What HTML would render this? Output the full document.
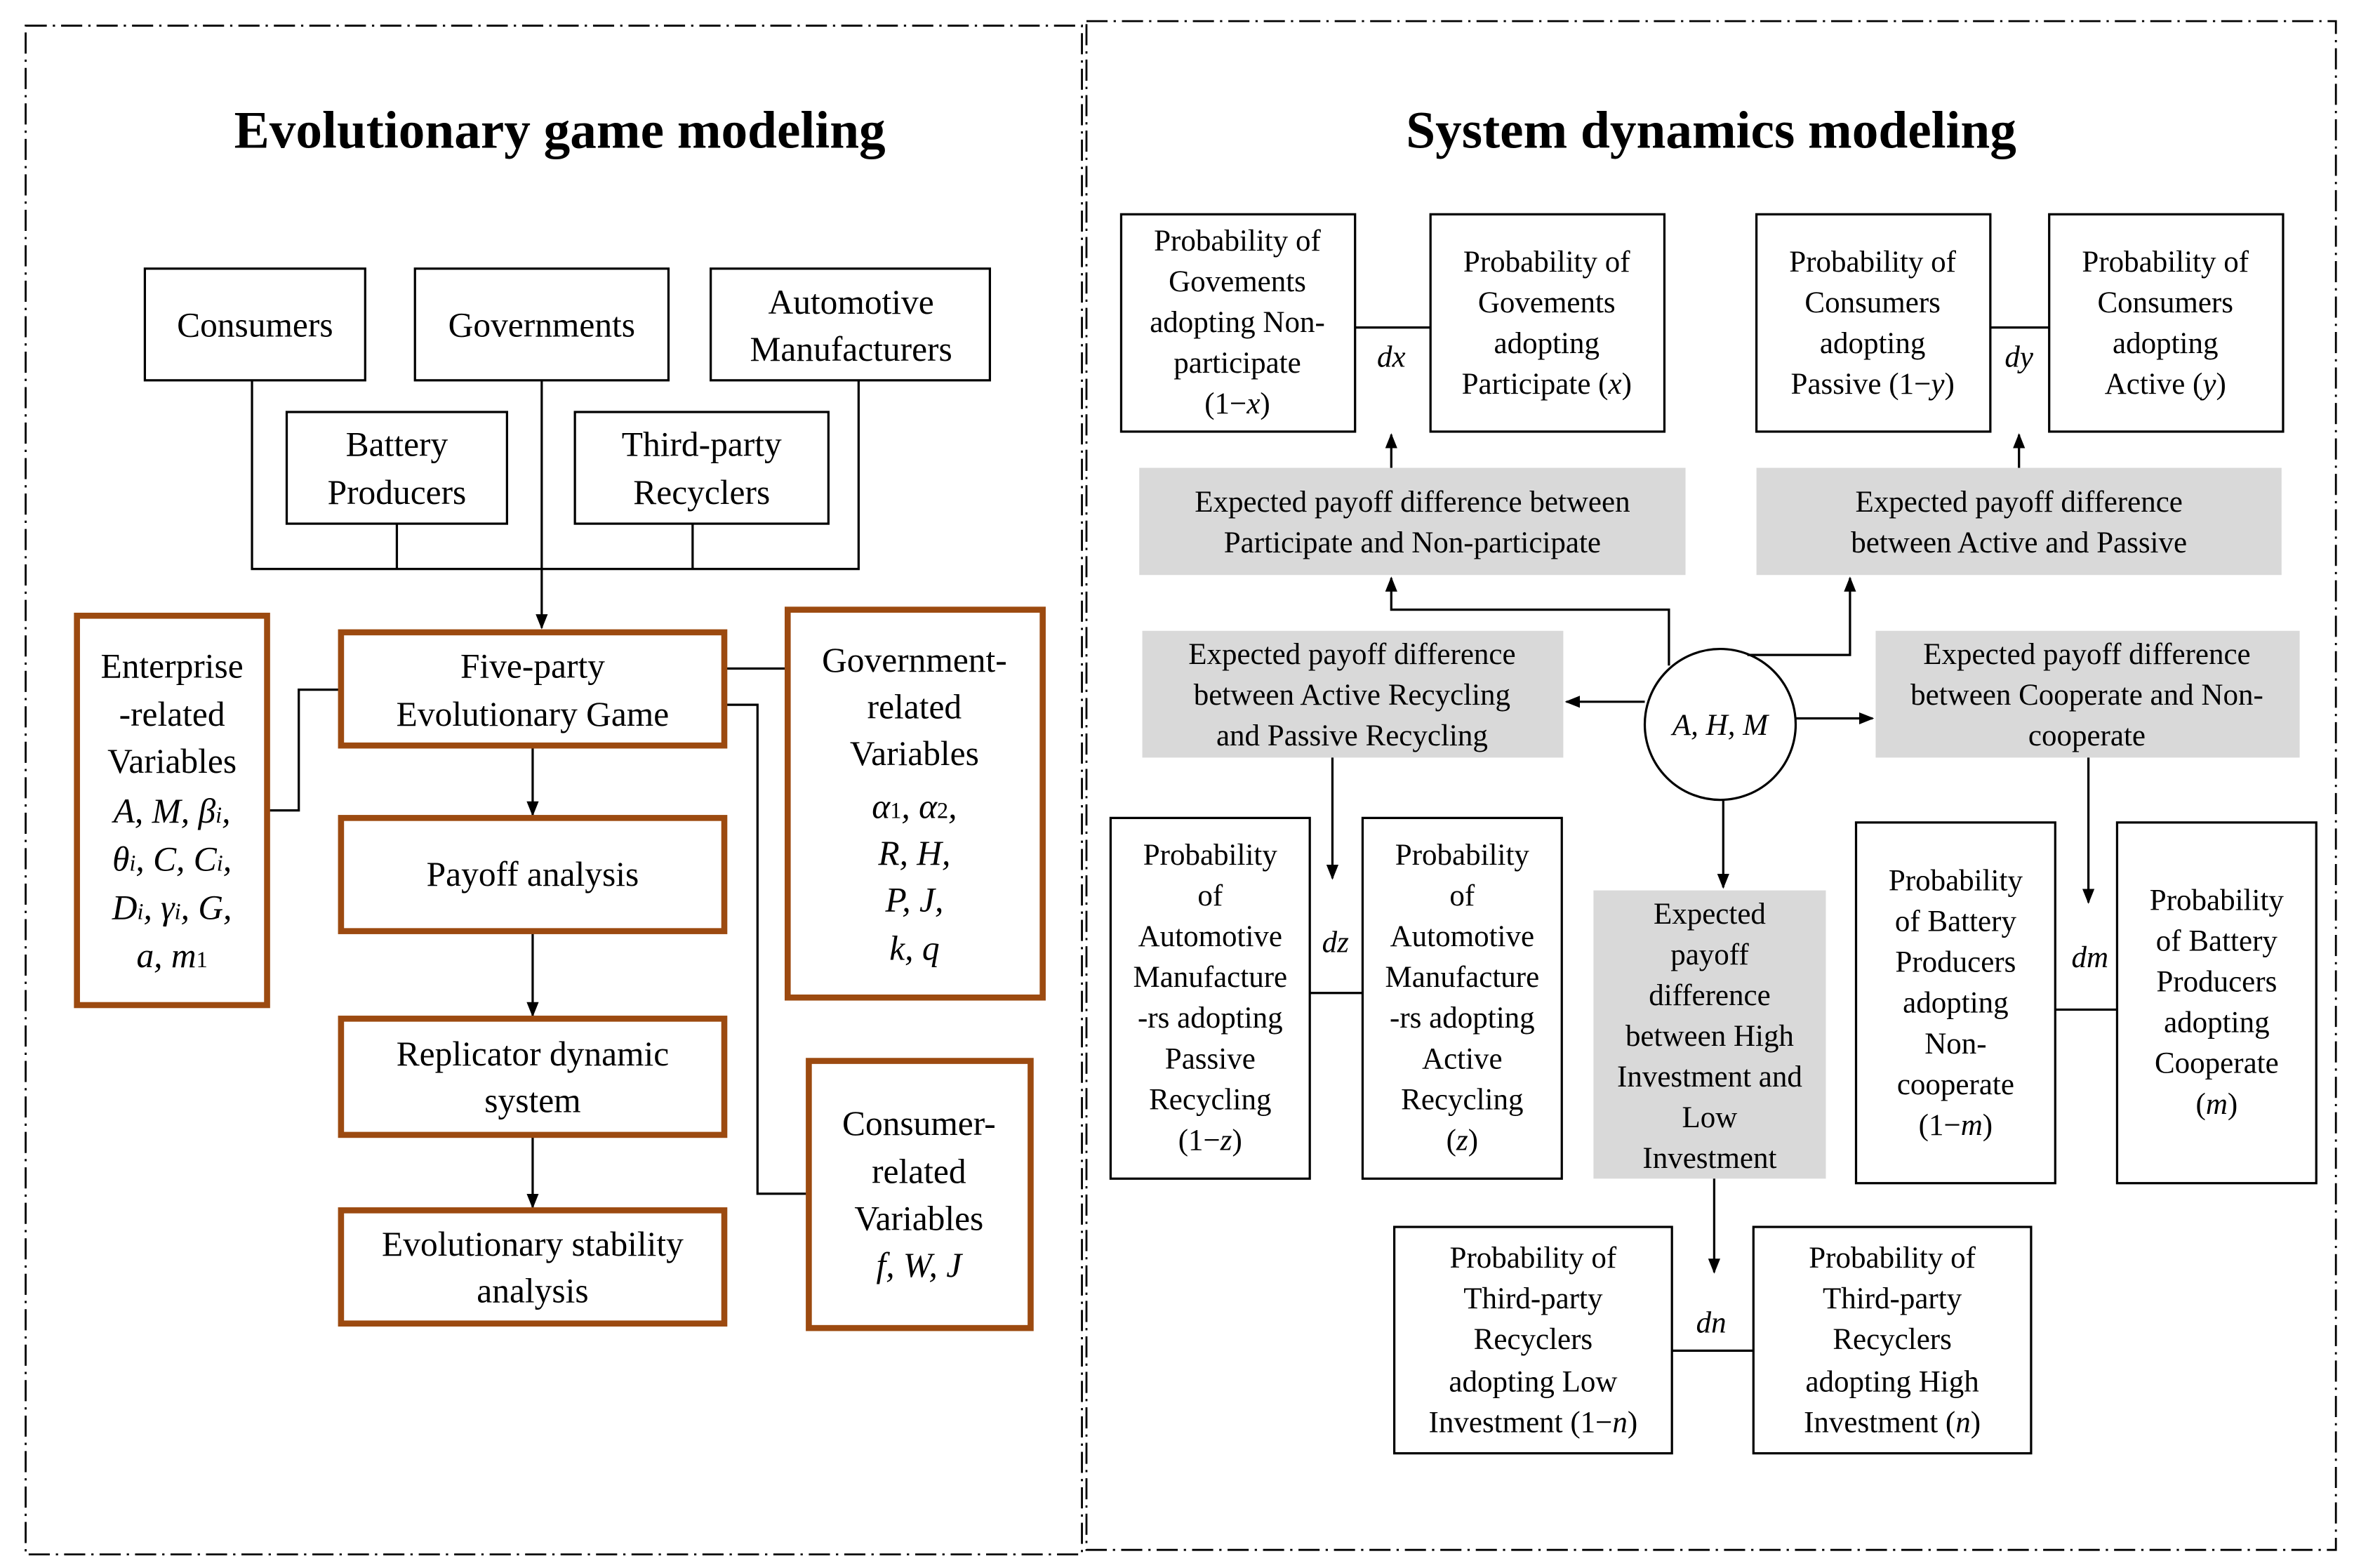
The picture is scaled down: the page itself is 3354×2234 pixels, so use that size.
<!DOCTYPE html>
<html><head><meta charset="utf-8"><style>
html,body{margin:0;padding:0;background:#fff;}
svg{display:block;}
text{font-family:"Liberation Serif",serif;fill:#000;}
</style></head><body>
<svg width="3354" height="2234" viewBox="0 0 1560 1039" preserveAspectRatio="none" xmlns="http://www.w3.org/2000/svg">
<defs><marker id="a" markerWidth="10" markerHeight="10" refX="9" refY="5" orient="auto" markerUnits="userSpaceOnUse"><path d="M0,1 L10,5 L0,9 Z" fill="#000"/></marker></defs>
<g fill="none" stroke="#000" stroke-width="1.3" stroke-dasharray="14,4,1.5,4">
<rect x="17" y="17" width="700" height="1013"/>
<rect x="720" y="14" width="828" height="1013"/>
</g>
<text x="371" y="98" font-size="35" font-weight="bold" text-anchor="middle">Evolutionary game modeling</text>
<text x="1134" y="98" font-size="35" font-weight="bold" text-anchor="middle">System dynamics modeling</text>

<g fill="none" stroke="#000" stroke-width="1.5">
<rect x="96" y="178" width="146" height="74"/>
<rect x="275" y="178" width="168" height="74"/>
<rect x="471" y="178" width="185" height="74"/>
<rect x="190" y="273" width="146" height="74"/>
<rect x="381" y="273" width="168" height="74"/>
<path d="M167,252V377H569V252M263,347V377M459,347V377"/>
<path d="M359,252V416" marker-end="url(#a)"/>
<path d="M177,537H198V457H226"/>
<path d="M480,443H522"/>
<path d="M480,467H502V791H536"/>
<path d="M353,494V540" marker-end="url(#a)"/>
<path d="M353,617V673" marker-end="url(#a)"/>
<path d="M353,752V800" marker-end="url(#a)"/>
</g>
<g fill="none" stroke="#9c4a10" stroke-width="4">
<rect x="226" y="419" width="254" height="75"/>
<rect x="51" y="408" width="126" height="258"/>
<rect x="522" y="404" width="169" height="257"/>
<rect x="226" y="542" width="254" height="75"/>
<rect x="226" y="675" width="254" height="77"/>
<rect x="226" y="802" width="254" height="75"/>
<rect x="536" y="703" width="147" height="177"/>
</g>
<g font-size="23" text-anchor="middle">
<text x="169" y="223">Consumers</text>
<text x="359" y="223">Governments</text>
<text x="564" y="208">Automotive</text><text x="564" y="239">Manufacturers</text>
<text x="263" y="302">Battery</text><text x="263" y="334">Producers</text>
<text x="465" y="302">Third-party</text><text x="465" y="334">Recyclers</text>
<text x="353" y="449">Five-party</text><text x="353" y="481">Evolutionary Game</text>
<text x="353" y="587">Payoff analysis</text>
<text x="353" y="706">Replicator dynamic</text><text x="353" y="737">system</text>
<text x="353" y="832">Evolutionary stability</text><text x="353" y="863">analysis</text>
<text x="114" y="449">Enterprise</text><text x="114" y="481">-related</text><text x="114" y="512">Variables</text>
<text x="114" y="545" font-style="italic">A, M, β<tspan font-size="15">i</tspan>,</text>
<text x="114" y="577" font-style="italic">θ<tspan font-size="15">i</tspan>, C, C<tspan font-size="15">i</tspan>,</text>
<text x="114" y="609" font-style="italic">D<tspan font-size="15">i</tspan>, γ<tspan font-size="15">i</tspan>, G,</text>
<text x="114" y="641" font-style="italic">a, m<tspan font-size="15" font-style="normal">1</tspan></text>
<text x="606" y="445">Government-</text><text x="606" y="476">related</text><text x="606" y="507">Variables</text>
<text x="606" y="542" font-style="italic">α<tspan font-size="15" font-style="normal">1</tspan>, α<tspan font-size="15" font-style="normal">2</tspan>,</text>
<text x="606" y="573" font-style="italic">R, H,</text>
<text x="606" y="604" font-style="italic">P, J,</text>
<text x="606" y="636" font-style="italic">k, q</text>
<text x="609" y="752">Consumer-</text><text x="609" y="784">related</text><text x="609" y="815">Variables</text>
<text x="609" y="846" font-style="italic">f, W, J</text>
</g>

<g fill="#d9d9d9" stroke="none">
<rect x="755" y="310" width="362" height="71"/>
<rect x="1164" y="310" width="348" height="71"/>
<rect x="757" y="418" width="279" height="84"/>
<rect x="1243" y="418" width="281" height="84"/>
<rect x="1056" y="590" width="154" height="191"/>
</g>
<g fill="none" stroke="#000" stroke-width="1.5">
<rect x="743" y="142" width="155" height="144"/>
<rect x="948" y="142" width="155" height="144"/>
<rect x="1164" y="142" width="155" height="144"/>
<rect x="1358" y="142" width="155" height="144"/>
<rect x="736" y="542" width="132" height="239"/>
<rect x="903" y="542" width="132" height="239"/>
<rect x="1230" y="545" width="132" height="239"/>
<rect x="1403" y="545" width="132" height="239"/>
<rect x="924" y="813" width="184" height="150"/>
<rect x="1162" y="813" width="184" height="150"/>
<path d="M898,217H948M1319,217H1358M868,658H903M1362,669H1403M1108,895H1162"/>
<ellipse cx="1140" cy="480" rx="50" ry="50"/>
<path d="M922,310V288" marker-end="url(#a)"/>
<path d="M1338,310V288" marker-end="url(#a)"/>
<path d="M1106,441V404H922V383" marker-end="url(#a)"/>
<path d="M1158,434H1226V383" marker-end="url(#a)"/>
<path d="M1090,465H1038" marker-end="url(#a)"/>
<path d="M1190,476H1241" marker-end="url(#a)"/>
<path d="M1142,530V588" marker-end="url(#a)"/>
<path d="M883,502V582" marker-end="url(#a)"/>
<path d="M1384,502V598" marker-end="url(#a)"/>
<path d="M1136,781V843" marker-end="url(#a)"/>
</g>
<g font-size="20" text-anchor="middle">
<text x="820" y="166">Probability of</text><text x="820" y="193">Govements</text><text x="820" y="220">adopting Non-</text><text x="820" y="247">participate</text><text x="820" y="274">(1−<tspan font-style="italic">x</tspan>)</text>
<text x="1025" y="180">Probability of</text><text x="1025" y="207">Govements</text><text x="1025" y="234">adopting</text><text x="1025" y="261">Participate (<tspan font-style="italic">x</tspan>)</text>
<text x="1241" y="180">Probability of</text><text x="1241" y="207">Consumers</text><text x="1241" y="234">adopting</text><text x="1241" y="261">Passive (1−<tspan font-style="italic">y</tspan>)</text>
<text x="1435" y="180">Probability of</text><text x="1435" y="207">Consumers</text><text x="1435" y="234">adopting</text><text x="1435" y="261">Active (<tspan font-style="italic">y</tspan>)</text>
<text x="936" y="339">Expected payoff difference between</text><text x="936" y="366">Participate and Non-participate</text>
<text x="1338" y="339">Expected payoff difference</text><text x="1338" y="366">between Active and Passive</text>
<text x="896" y="440">Expected payoff difference</text><text x="896" y="467">between Active Recycling</text><text x="896" y="494">and Passive Recycling</text>
<text x="1383" y="440">Expected payoff difference</text><text x="1383" y="467">between Cooperate and Non-</text><text x="1383" y="494">cooperate</text>
<text x="1133" y="612">Expected</text><text x="1133" y="639">payoff</text><text x="1133" y="666">difference</text><text x="1133" y="693">between High</text><text x="1133" y="720">Investment and</text><text x="1133" y="747">Low</text><text x="1133" y="774">Investment</text>
<text x="802" y="573">Probability</text><text x="802" y="600">of</text><text x="802" y="627">Automotive</text><text x="802" y="654">Manufacture</text><text x="802" y="681">-rs adopting</text><text x="802" y="708">Passive</text><text x="802" y="735">Recycling</text><text x="802" y="762">(1−<tspan font-style="italic">z</tspan>)</text>
<text x="969" y="573">Probability</text><text x="969" y="600">of</text><text x="969" y="627">Automotive</text><text x="969" y="654">Manufacture</text><text x="969" y="681">-rs adopting</text><text x="969" y="708">Active</text><text x="969" y="735">Recycling</text><text x="969" y="762">(<tspan font-style="italic">z</tspan>)</text>
<text x="1296" y="590">Probability</text><text x="1296" y="617">of Battery</text><text x="1296" y="644">Producers</text><text x="1296" y="671">adopting</text><text x="1296" y="698">Non-</text><text x="1296" y="725">cooperate</text><text x="1296" y="752">(1−<tspan font-style="italic">m</tspan>)</text>
<text x="1469" y="603">Probability</text><text x="1469" y="630">of Battery</text><text x="1469" y="657">Producers</text><text x="1469" y="684">adopting</text><text x="1469" y="711">Cooperate</text><text x="1469" y="738">(<tspan font-style="italic">m</tspan>)</text>
<text x="1016" y="840">Probability of</text><text x="1016" y="867">Third-party</text><text x="1016" y="894">Recyclers</text><text x="1016" y="922">adopting Low</text><text x="1016" y="949">Investment (1−<tspan font-style="italic">n</tspan>)</text>
<text x="1254" y="840">Probability of</text><text x="1254" y="867">Third-party</text><text x="1254" y="894">Recyclers</text><text x="1254" y="922">adopting High</text><text x="1254" y="949">Investment (<tspan font-style="italic">n</tspan>)</text>
</g>
<g font-size="20" font-style="italic" text-anchor="middle">
<text x="922" y="243">dx</text>
<text x="1338" y="243">dy</text>
<text x="885" y="631">dz</text>
<text x="1385" y="641">dm</text>
<text x="1134" y="883">dn</text>
<text x="1140" y="487">A, H, M</text>
</g>
</svg>
</body></html>
